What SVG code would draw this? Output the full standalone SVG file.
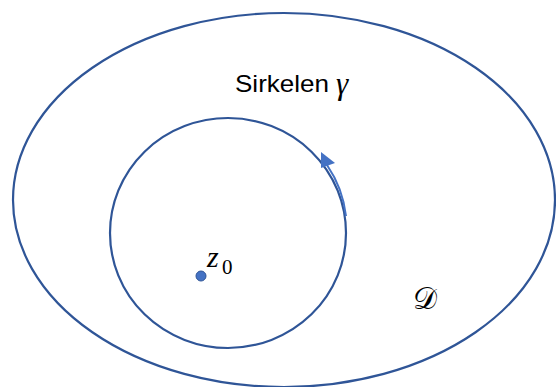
<svg xmlns="http://www.w3.org/2000/svg" width="556" height="387" viewBox="0 0 556 387">
<style>
.ring{fill:none;stroke:#2F5597;stroke-width:2.2}
.math{font-family:"Liberation Serif","DejaVu Serif",serif;fill:#000}
.it{font-style:italic}
.lbl{font-family:"Liberation Sans",Arial,sans-serif;fill:#000}
</style>
<rect width="556" height="387" fill="#fff"/>
<g id="domain">
<ellipse class="ring" cx="284" cy="200" rx="271" ry="187"/>
<text class="math" x="413" y="309" font-size="30">𝒟</text>
</g>
<g id="circle">
<ellipse class="ring" cx="228" cy="233" rx="118" ry="115"/>
</g>
<g id="label">
<text class="lbl" x="235" y="92" font-size="24" textLength="94" lengthAdjust="spacingAndGlyphs">Sirkelen</text>
<text class="math it" x="336" y="94" font-size="31">γ</text>
</g>
<g id="center">
<circle cx="201" cy="276" r="5" fill="#4472C4" stroke="#2F5597" stroke-width="1"/>
<text class="math it" x="207" y="267" font-size="30">z</text>
<text class="math" x="222" y="274" font-size="21">0</text>
</g>
<g id="connectors">
<path d="M346,216 A118,115 0 0 0 327,165" fill="none" stroke="#4472C4" stroke-width="2"/>
<polygon points="321,152 335,163 321,168" fill="#4472C4"/>
</g>
</svg>
